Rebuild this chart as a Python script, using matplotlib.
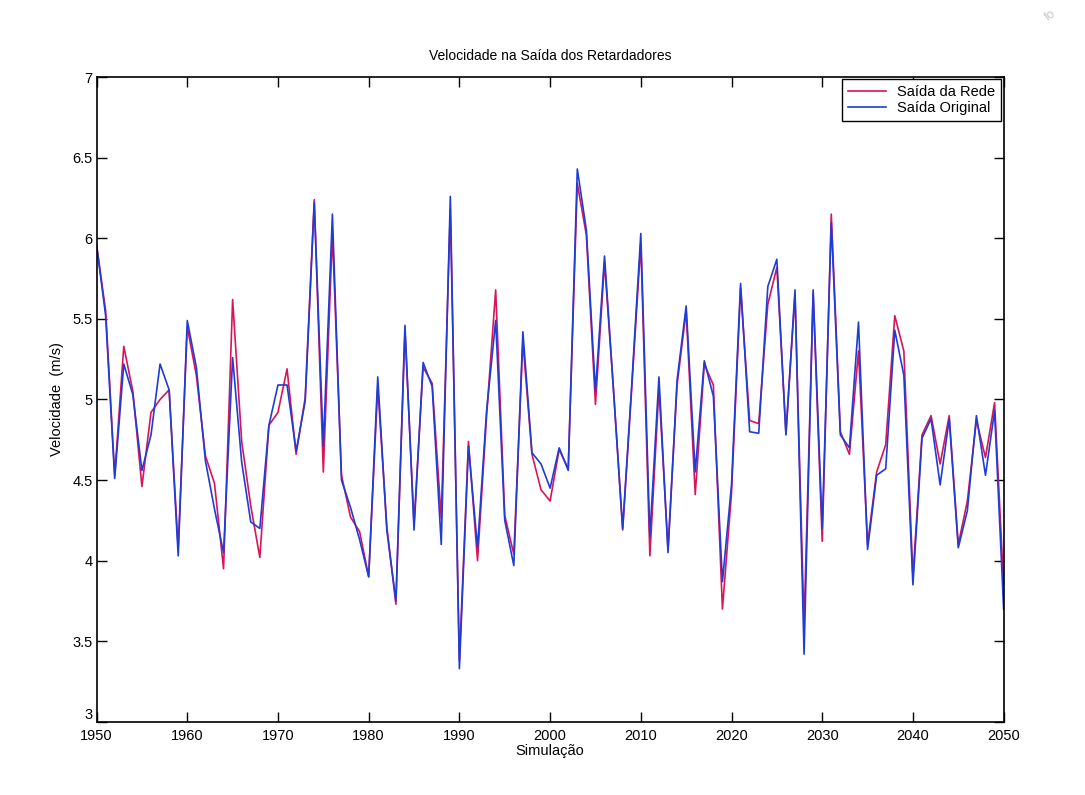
import numpy as np
import matplotlib
matplotlib.use('Agg')
import matplotlib.pyplot as plt
import matplotlib.transforms as mtrans

# years of the simulation
anos = list(range(1950, 2051))

# original output (blue)
saidaOriginal = [5.96, 5.52, 4.51, 5.22, 5.03, 4.56, 4.78, 5.22, 5.06, 4.03,
                 5.49, 5.20, 4.62, 4.32, 4.05, 5.26, 4.61, 4.24, 4.20, 4.84,
                 5.09, 5.09, 4.68, 4.99, 6.22, 4.71, 6.15, 4.50, 4.33, 4.13,
                 3.90, 5.14, 4.19, 3.75, 5.46, 4.19, 5.23, 5.08, 4.10, 6.26,
                 3.33, 4.71, 4.08, 4.93, 5.49, 4.25, 3.97, 5.42, 4.67, 4.60,
                 4.45, 4.70, 4.56, 6.43, 6.05, 5.05, 5.89, 5.05, 4.20, 5.09,
                 6.03, 4.15, 5.14, 4.05, 5.12, 5.58, 4.55, 5.24, 5.02, 3.87,
                 4.47, 5.72, 4.80, 4.79, 5.70, 5.87, 4.78, 5.68, 3.42, 5.68,
                 4.20, 6.10, 4.78, 4.70, 5.48, 4.07, 4.53, 4.57, 5.43, 5.15,
                 3.85, 4.76, 4.88, 4.47, 4.88, 4.08, 4.31, 4.90, 4.53, 4.93,
                 3.70]

# network output (red)
saidaRede = [5.96, 5.55, 4.53, 5.33, 5.05, 4.46, 4.92, 5.00, 5.06, 4.08,
             5.45, 5.15, 4.65, 4.48, 3.95, 5.62, 4.74, 4.34, 4.02, 4.84,
             4.92, 5.19, 4.66, 5.01, 6.24, 4.55, 6.03, 4.53, 4.27, 4.18,
             3.90, 5.08, 4.21, 3.73, 5.43, 4.23, 5.20, 5.10, 4.26, 6.18,
             3.38, 4.74, 4.00, 4.90, 5.68, 4.28, 4.04, 5.36, 4.66, 4.44,
             4.37, 4.69, 4.57, 6.34, 6.02, 4.97, 5.85, 5.05, 4.19, 5.07,
             5.97, 4.03, 5.07, 4.07, 5.09, 5.55, 4.41, 5.22, 5.09, 3.70,
             4.42, 5.69, 4.87, 4.85, 5.59, 5.82, 4.79, 5.65, 3.60, 5.66,
             4.12, 6.15, 4.80, 4.66, 5.30, 4.10, 4.55, 4.72, 5.52, 5.30,
             3.90, 4.78, 4.90, 4.60, 4.90, 4.10, 4.37, 4.87, 4.64, 4.98,
             3.85]

yLabels = ['3', '3.5', '4', '4.5', '5', '5.5', '6', '6.5', '7']

plt.rcParams['font.family'] = ['Liberation Sans', 'DejaVu Sans']

fig = plt.figure(figsize=(10.85, 7.95), dpi=100)
ax = fig.add_axes([0.089, 0.092, 0.836, 0.811])

ax.plot(anos, saidaRede, color='#d8145a', linewidth=1.2, label='Saída da Rede')
ax.plot(anos, saidaOriginal, color='#1f3cd6', linewidth=1.2, label='Saída Original')

ax.set_xlim(1950, 2050)
ax.set_ylim(3, 7)
ax.set_xticks(np.arange(1950, 2051, 10))
ax.set_yticks(np.arange(3, 7.01, 0.5))
ax.set_yticklabels(yLabels)
ax.tick_params(direction='in', top=True, right=True, length=7, width=1,
               labelsize=10.5)
ax.tick_params(axis='x', pad=5)
ax.tick_params(axis='y', pad=3)
for s in ax.spines.values():
    s.set_linewidth(1.2)

# MATLAB puts the lowest y label just above the corner
lbl = ax.get_yticklabels()[0]
lbl.set_transform(lbl.get_transform() +
                  mtrans.ScaledTranslation(0, 6 / 72, fig.dpi_scale_trans))

ax.set_title('Velocidade na Saída dos Retardadores', fontsize=10, pad=12)
ax.set_xlabel('Simulação', fontsize=10.5, labelpad=1)
ax.set_ylabel('Velocidade  (m/s)', fontsize=10.5, labelpad=6)

leg = ax.legend(loc='upper right', fontsize=10.5, handlelength=2.6,
                fancybox=False, edgecolor='black', framealpha=1,
                borderaxespad=0.15, labelspacing=0.15)
leg.get_frame().set_linewidth(1.0)

# faint scan mark in the corner
fig.text(0.968, 0.99, 'fo', rotation=35, color='#c8c8c8', fontsize=9,
         ha='center', va='top')

fig.savefig('out.png', dpi=100, facecolor='white')
